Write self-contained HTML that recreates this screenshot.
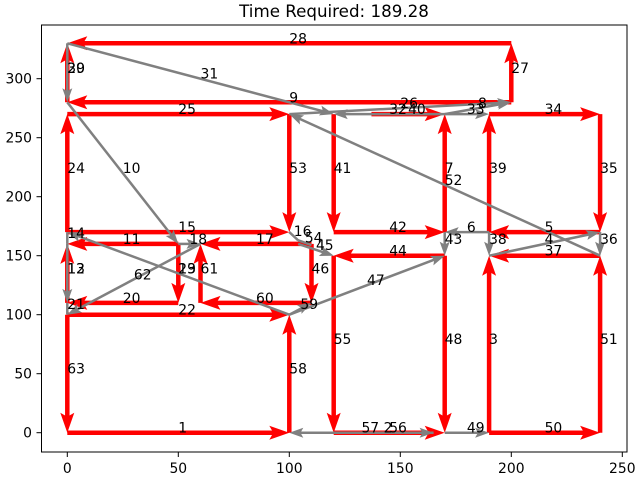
<!DOCTYPE html>
<html><head><meta charset="utf-8"><style>
body{margin:0;background:#fff;}
svg{display:block;font-family:"DejaVu Sans","Liberation Sans",sans-serif;}
</style></head><body>
<svg id="chart" width="640" height="480" viewBox="0 0 640 480" xmlns="http://www.w3.org/2000/svg">
<rect width="640" height="480" fill="#fff"/>
<text x="334" y="17" font-size="16.7" text-anchor="middle">Time Required: 189.28</text>
<g id="marks"></g>
<rect x="41.5" y="25" width="585.5" height="427" fill="none" stroke="#000" stroke-width="1"/>
<g id="axes"></g>
</svg>
<script>
const edgeLabels=[1,2,3,4,5,6,7,8,9,10,11,12,13,14,15,16,17,18,19,20,21,22,23,24,25,26,27,28,29,30,31,32,33,34,35,36,37,38,39,40,41,42,43,44,45,46,47,48,49,50,51,52,53,54,55,56,57,58,59,60,61,62,63];
const edgeX1=[0,120,190,190,240,190,170,170,200,0,50,0,0,0,0,100,110,50,100,50,0,0,50,0,0,100,200,200,0,0,0,170,170,190,240,240,240,190,190,137,120,120,170,170,104,110,100,170,170,190,240,240,100,104,120,120,165,100,100,110,60,60,0];
const edgeY1=[0,0,0,150,170,170,170,270,280,280,160,110,160,160,170,170,160,160,100,110,110,100,160,170,270,270,280,330,280,330,330,270,270,270,270,170,150,170,170,270,270,170,170,150,160,160,100,150,0,0,0,150,270,163,150,0,0,0,100,110,110,160,100];
const edgeX2=[100,165,190,240,190,170,170,200,0,50,0,0,0,0,100,104,60,60,0,0,0,100,50,0,100,200,200,0,0,0,120,120,190,240,240,240,190,190,190,170,120,170,170,120,120,110,170,170,190,240,240,100,100,110,120,170,100,100,110,60,60,0,0];
const edgeY2=[0,0,150,170,170,170,270,280,280,160,160,160,110,170,170,163,160,160,170,110,100,100,110,270,270,280,330,330,330,280,270,270,270,270,170,150,150,150,270,270,170,170,150,150,150,110,150,0,0,0,150,270,170,159,0,0,0,100,110,110,160,100,0];
const edgeKind=["r","g","r","g","r","g","r","g","r","g","r","r","g","g","r","g","r","g","g","r","g","r","r","r","r","g","r","r","r","g","g","g","g","r","r","g","r","g","r","r","r","r","g","r","g","r","g","r","g","r","r","g","r","g","r","r","g","r","g","r","r","g","r"];
const xTicks=[0,50,100,150,200,250];
const yTicks=[0,50,100,150,200,250,300];

const NS="http://www.w3.org/2000/svg";
const X=v=>67.3+v*2.22;
const Y=v=>432.7-v*1.18;
const marks=document.getElementById('marks');
const axes=document.getElementById('axes');
function mk(tag,attrs,parent){const e=document.createElementNS(NS,tag);for(const k in attrs)e.setAttribute(k,attrs[k]);parent.appendChild(e);return e;}

function drawEdge(i){
  const red=edgeKind[i]==="r";
  const x1=X(edgeX1[i]),y1=Y(edgeY1[i]),x2=X(edgeX2[i]),y2=Y(edgeY2[i]);
  const dx=x2-x1,dy=y2-y1,L=Math.hypot(dx,dy)||1,ux=dx/L,uy=dy/L,px=-uy,py=ux;
  const hl=red?20:14,hw=red?7:5;
  const g=mk('g',{},marks);
  
  
  const hasHead=L>hl*1.05;
  const ex=hasHead?x2-ux*hl*0.6:x2, ey=hasHead?y2-uy*hl*0.6:y2;
  mk('line',{x1:x1,y1:y1,x2:ex,y2:ey,stroke:red?'#ff0000':'#808080','stroke-width':red?4.5:2.5},g);
  if(hasHead){
    const bx=x2-ux*hl,by=y2-uy*hl,nx=x2-ux*hl*0.8,ny=y2-uy*hl*0.8;
    mk('polygon',{points:`${x2},${y2} ${bx+px*hw},${by+py*hw} ${nx},${ny} ${bx-px*hw},${by-py*hw}`,fill:red?'#ff0000':'#808080'},g);
  }
}
for(let i=0;i<edgeLabels.length;i++) if(edgeKind[i]==="r") drawEdge(i);
for(let i=0;i<edgeLabels.length;i++) if(edgeKind[i]==="g") drawEdge(i);
for(let i=0;i<edgeLabels.length;i++){
  const t=mk('text',{x:X((edgeX1[i]+edgeX2[i])/2),y:Y((edgeY1[i]+edgeY2[i])/2),'font-size':13.9,fill:'#000'},marks);
  
  
  t.textContent=edgeLabels[i];
}
xTicks.forEach(v=>{
  const l=mk('line',{x1:X(v),x2:X(v),y1:452,y2:457,stroke:'#000','stroke-width':1},axes);
  
  
  const t=mk('text',{x:X(v),y:473,'font-size':13.9,'text-anchor':'middle'},axes);
  
  
  t.textContent=v;
});
yTicks.forEach(v=>{
  const l=mk('line',{x1:36.5,x2:41.5,y1:Y(v),y2:Y(v),stroke:'#000','stroke-width':1},axes);
  
  
  const t=mk('text',{x:32,y:Y(v)+5,'font-size':13.9,'text-anchor':'end'},axes);
  
  
  t.textContent=v;
});
</script>
</body></html>
